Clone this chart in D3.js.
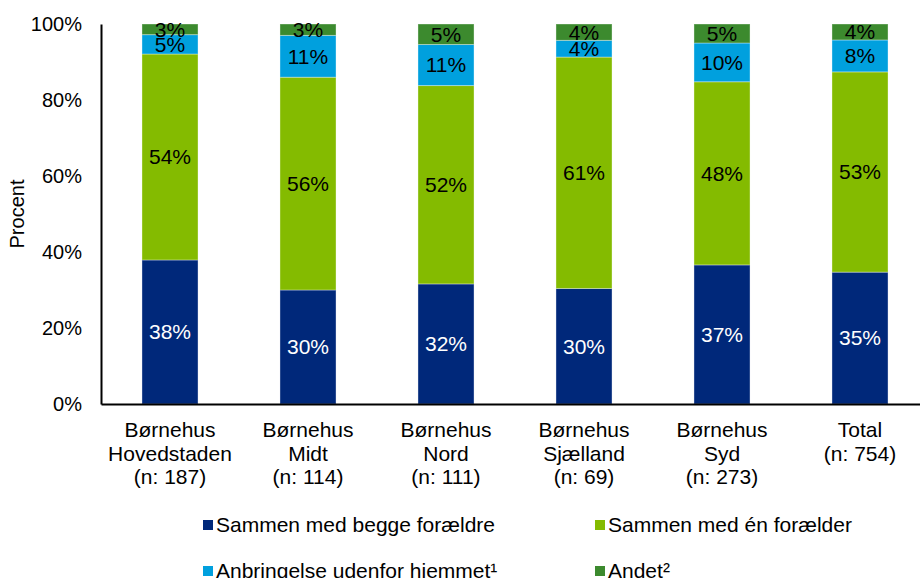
<!DOCTYPE html>
<html>
<head>
<meta charset="utf-8">
<script src="https://cdn.jsdelivr.net/npm/d3@7"></script>
<style>
  body { margin: 0; background: white; }
  text { font-family: "Liberation Sans", Arial, sans-serif; }
</style>
</head>
<body>
<div class="chart"></div>
<script>
// categories shown on the x axis (one array per line)
var categories = ['Hovedstaden', 'Midt', 'Nord', 'Sjælland', 'Syd', 'Total'];
var catLines = [
  ['Børnehus', 'Hovedstaden', '(n: 187)'],
  ['Børnehus', 'Midt', '(n: 114)'],
  ['Børnehus', 'Nord', '(n: 111)'],
  ['Børnehus', 'Sjælland', '(n: 69)'],
  ['Børnehus', 'Syd', '(n: 273)'],
  ['Total', '(n: 754)']
];

var seriesNames = ['Sammen med begge forældre', 'Sammen med én forælder', 'Anbringelse udenfor hjemmet¹', 'Andet²'];
var seriesColors = ['#00287a', '#84bb00', '#00a0de', '#3c8a2e'];

// percent values per series, same order as categories
var begge  = [37.9, 30.0, 31.6, 30.4, 36.6, 34.7];
var en     = [54.2, 56.0, 52.2, 60.9, 48.2, 52.7];
var anbr   = [5.1, 11.0, 10.8, 4.4, 10.2, 8.4];
var andet  = [2.8, 3.0, 5.4, 4.3, 5.0, 4.2];

var yTicks = [0, 20, 40, 60, 80, 100];

var width = 920, height = 578;
var margin = { left: 101, top: 24, right: -9, bottom: 174 };

var svg = d3.select('.chart')
  .append('svg')
    .attr('width', width)
    .attr('height', height)
    .style('background', 'white');

var rows = categories.map((c, i) => ({
  cat: c, s0: begge[i], s1: en[i], s2: anbr[i], s3: andet[i]
}));
var keys = ['s0', 's1', 's2', 's3'];
var stacked = d3.stack().keys(keys)(rows);

var x = d3.scaleBand()
  .domain(categories)
  .range([margin.left, width - margin.right])
  .paddingInner(0.594)
  .paddingOuter(0.297);

var y = d3.scaleLinear()
  .domain([0, 100])
  .range([height - margin.bottom, margin.top]);

// bars
var layers = svg.selectAll('g.layer')
  .data(stacked)
  .enter()
  .append('g')
    .attr('class', 'layer')
    .attr('fill', (d, i) => seriesColors[i]);

layers.selectAll('rect')
  .data(d => d)
  .enter()
  .append('rect')
    .attr('x', d => x(d.data.cat))
    .attr('width', x.bandwidth())
    .attr('y', d => y(d[1]))
    .attr('height', d => y(d[0]) - y(d[1]))
    .attr('stroke', 'rgba(255,255,255,0.35)')
    .attr('stroke-width', 1);

// value labels
layers.each(function(layer, li) {
  d3.select(this).selectAll('text')
    .data(layer)
    .enter()
    .append('text')
      .attr('x', d => x(d.data.cat) + x.bandwidth() / 2)
      .attr('y', d => (y(d[0]) + y(d[1])) / 2)
      .attr('dy', '0.35em')
      .attr('text-anchor', 'middle')
      .attr('font-size', 21)
      .attr('fill', li === 0 ? 'white' : 'black')
      .text(d => Math.round(d[1] - d[0]) + '%');
});

// y axis
var yAxis = d3.axisLeft(y)
  .tickValues(yTicks)
  .tickSize(0)
  .tickPadding(19)
  .tickFormat(d => d + '%');

var yg = svg.append('g')
  .attr('transform', 'translate(' + margin.left + ',0)')
  .call(yAxis);
yg.select('.domain').attr('stroke', 'black').attr('stroke-width', 2);
yg.selectAll('text')
  .attr('font-size', 20)
  .attr('fill', 'black')
  .style('font-family', '"Liberation Sans", Arial, sans-serif');

// x axis line
var xAxis = d3.axisBottom(x).tickSize(0).tickFormat('');
var xg = svg.append('g')
  .attr('transform', 'translate(0,' + y(0) + ')')
  .call(xAxis);
xg.select('.domain').attr('stroke', 'black').attr('stroke-width', 2);

// category labels
var catG = svg.append('g');
categories.forEach((c, i) => {
  catG.append('text')
    .attr('text-anchor', 'middle')
    .attr('font-size', 21)
    .attr('fill', 'black')
    .selectAll('tspan')
    .data(catLines[i])
    .enter()
    .append('tspan')
      .attr('x', x(c) + x.bandwidth() / 2)
      .attr('y', (d, j) => 437 + j * 23.5)
      .text(d => d);
});

// y axis title
svg.append('text')
  .attr('transform', 'translate(24,214) rotate(-90)')
  .attr('text-anchor', 'middle')
  .attr('font-size', 20)
  .attr('fill', 'black')
  .text('Procent');

// legend
var legendPos = [[203, 525], [595, 525], [203, 571], [595, 571]];
var legend = svg.selectAll('g.legend')
  .data(seriesNames)
  .enter()
  .append('g')
    .attr('class', 'legend')
    .attr('transform', (d, i) => 'translate(' + legendPos[i][0] + ',' + legendPos[i][1] + ')');

legend.append('rect')
  .attr('x', 0)
  .attr('y', -5)
  .attr('width', 10)
  .attr('height', 10)
  .attr('fill', (d, i) => seriesColors[i]);

legend.append('text')
  .attr('x', 13)
  .attr('dy', '0.35em')
  .attr('font-size', 21)
  .attr('fill', 'black')
  .text(d => d);
</script>
</body>
</html>
